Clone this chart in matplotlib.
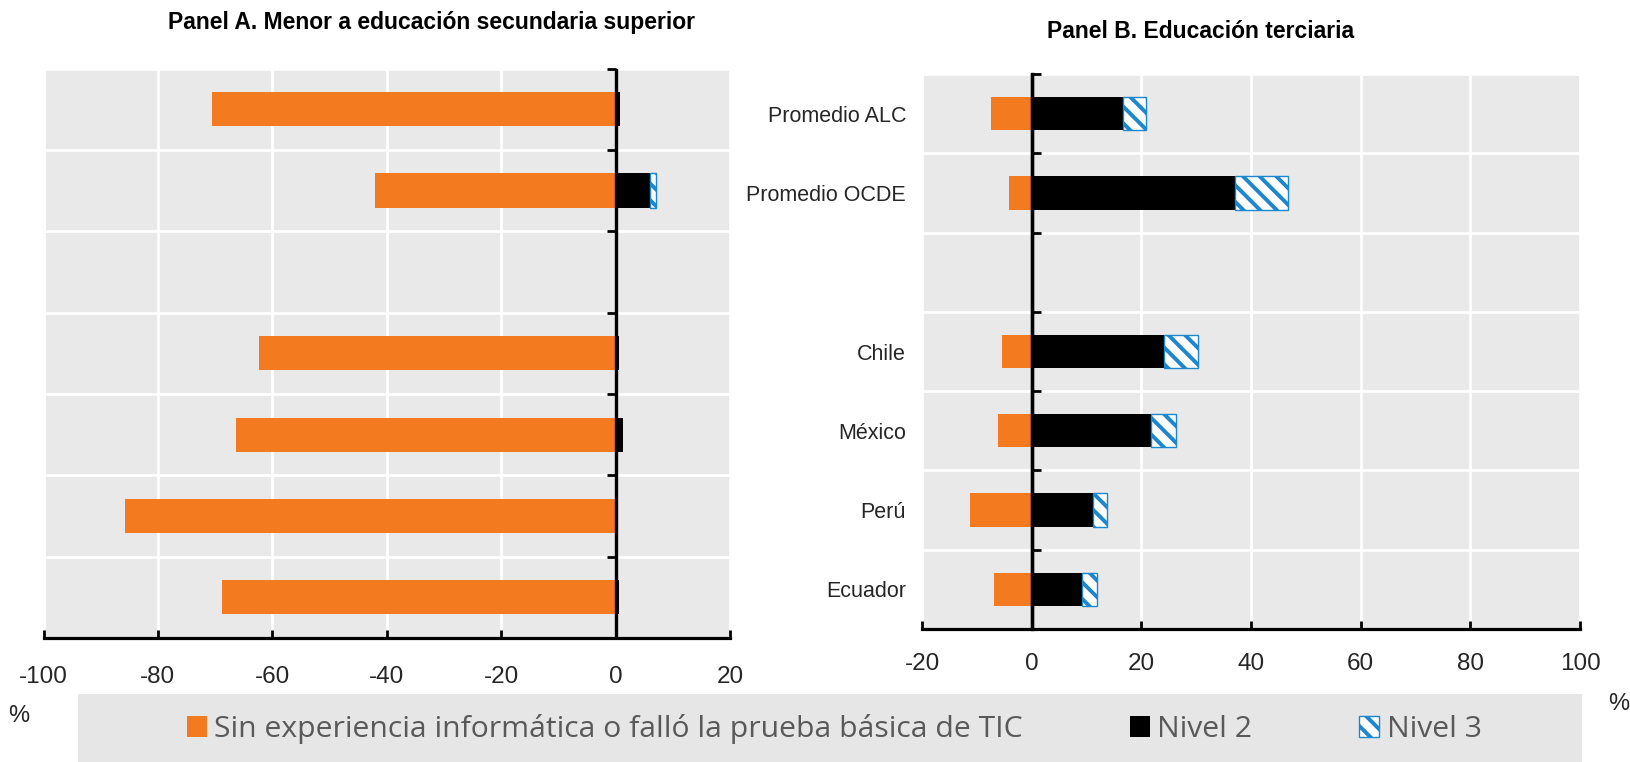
import numpy as np
import matplotlib
matplotlib.use("Agg")
import matplotlib.pyplot as plt
from matplotlib import font_manager as fm
from matplotlib.patches import Rectangle

# ---------------- data ----------------
categories = ["Promedio ALC", "Promedio OCDE", "", "Chile", "México", "Perú", "Ecuador"]
series_names = ["Sin experiencia informática o falló la prueba básica de TIC", "Nivel 2", "Nivel 3"]
panel_titles = ["Panel A. Menor a educación secundaria superior", "Panel B. Educación terciaria"]

a_sin = [-70.6, -42.1, np.nan, -62.4, -66.3, -85.8, -68.8]
a_n2 = [0.7, 6.0, np.nan, 0.6, 1.3, 0.0, 0.6]
a_n3 = [np.nan, 1.0, np.nan, np.nan, np.nan, np.nan, np.nan]

b_sin = [-7.5, -4.1, np.nan, -5.4, -6.2, -11.2, -6.8]
b_n2 = [16.6, 37.0, np.nan, 24.1, 21.7, 11.2, 9.1]
b_n3 = [4.2, 9.8, np.nan, 6.2, 4.7, 2.6, 2.9]

a_xticks = [-100, -80, -60, -40, -20, 0, 20]
b_xticks = [-20, 0, 20, 40, 60, 80, 100]

# ---------------- style ----------------
names = {f.name for f in fm.fontManager.ttflist}
SANS = "Liberation Sans"
LEG = "Open Sans" if "Open Sans" in names else "DejaVu Sans"

ORANGE = "#F47A20"
BLUE = "#1C86CE"
BG = "#E9E9E9"
TXT = "#262626"
plt.rcParams["hatch.linewidth"] = 2.8

W, H = 1631, 762
fig = plt.figure(figsize=(W / 100, H / 100), dpi=100)


def fx(px):
    return px / W


def fy(py):
    return 1 - py / H


def panel(left, top, right, bottom, sin, n2, n3, xticks, show_labels, label_pad):
    ax = fig.add_axes([fx(left), fy(bottom), fx(right - left), (bottom - top) / H])
    ax.set_facecolor(BG)
    y = np.arange(len(categories))
    h = 0.42
    b1 = ax.barh(y, sin, height=h, color=ORANGE, zorder=2, label=series_names[0])
    b2 = ax.barh(y, n2, height=h, color="black", zorder=2, label=series_names[1])
    b3 = ax.barh(y, n3, left=n2, height=h, color="white", edgecolor=BLUE,
                 hatch="\\\\", linewidth=1.0, zorder=2, label=series_names[2])
    ax.axvline(0, color="black", linewidth=2.4, zorder=4)
    ax.set_xlim(xticks[0], xticks[-1])
    ax.set_ylim(len(categories) - 0.5, -0.5)
    ax.set_xticks(xticks)
    ax.set_xticklabels([str(t) for t in xticks], fontfamily=SANS, fontsize=17.5, color=TXT)
    ax.tick_params(axis="x", direction="in", length=6, width=2, pad=label_pad, color="black")
    bounds = np.arange(-0.5, len(categories), 1.0)
    ax.set_yticks(bounds, minor=True)
    ax.set_yticks(y)
    ax.set_yticklabels(categories if show_labels else [""] * len(categories),
                       fontfamily=SANS, fontsize=15.5, color=TXT)
    ax.tick_params(axis="y", which="both", length=0, pad=11.5)
    ax.grid(axis="y", which="minor", color="white", linewidth=2)
    ax.grid(axis="x", which="major", color="white", linewidth=2)
    ax.set_axisbelow(True)
    for s in ("left", "top", "right"):
        ax.spines[s].set_visible(False)
    ax.spines["bottom"].set_linewidth(2.3)
    ax.spines["bottom"].set_color("black")
    ax.spines["bottom"].set_zorder(6)
    # zero axis with ticks at category boundaries
    frac0 = (0 - xticks[0]) / (xticks[-1] - xticks[0])
    sec = ax.secondary_yaxis(frac0)
    sec.set_zorder(5)
    sec.set_yticks(bounds)
    sec.tick_params(direction="in", length=6.5, width=2, labelleft=False, labelright=False)
    sec.spines["left"].set_linewidth(2.4)
    return ax, (b1, b2, b3)


axA, handles = panel(43.5, 68.5, 730, 638, a_sin, a_n2, a_n3, a_xticks, False, 20.5)
axB, _ = panel(922, 74, 1580, 629, b_sin, b_n2, b_n3, b_xticks, True, 17.5)

fig.text(fx(432), fy(28.5), panel_titles[0], ha="center", va="baseline",
         fontfamily=SANS, fontweight="bold", fontsize=16.5, color="black")
fig.text(fx(1201), fy(38), panel_titles[1], ha="center", va="baseline",
         fontfamily=SANS, fontweight="bold", fontsize=16.5, color="black")

fig.text(fx(19), fy(716), "%", ha="center", va="center", fontfamily=SANS, fontsize=17, color=TXT)
fig.text(fx(1619), fy(704), "%", ha="center", va="center", fontfamily=SANS, fontsize=17, color=TXT)

# legend box
fig.patches.append(Rectangle((fx(78), 0), fx(1582 - 78), (762 - 694) / H,
                             transform=fig.transFigure, facecolor="#E6E6E6",
                             edgecolor="none", zorder=0))
leg = fig.legend(handles, series_names, loc="center left", bbox_to_anchor=(fx(187), fy(729)),
                 ncol=3, frameon=False, borderpad=0, borderaxespad=0,
                 handlelength=0.66, handleheight=0.66, handletextpad=0.25,
                 columnspacing=3.55, prop={"family": LEG, "size": 21.7})
for t in leg.get_texts():
    t.set_color("#595959")

fig.savefig("out.png", dpi=100)
